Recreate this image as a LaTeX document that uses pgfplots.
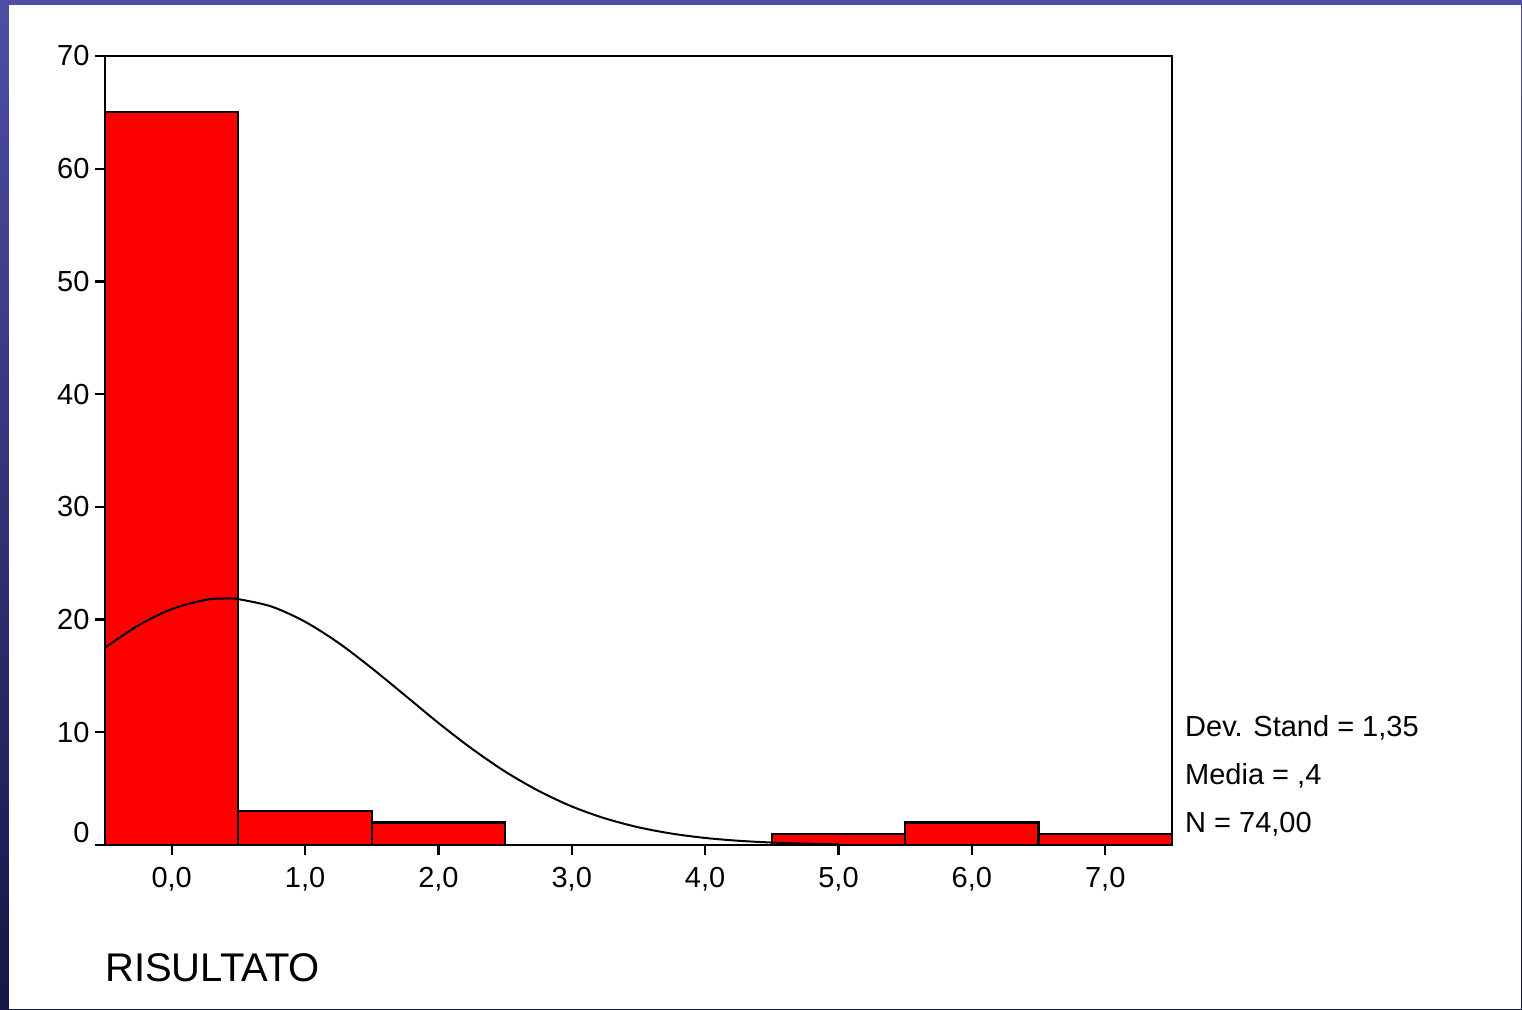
\documentclass[border=0pt]{standalone}
\usepackage{pgfplots}
\pgfplotsset{compat=1.18}
\usepackage{fontspec}
\setmainfont{Liberation Sans}
\definecolor{bgtop}{RGB}{78,78,165}
\definecolor{bgbot}{RGB}{22,22,72}
\definecolor{barred}{RGB}{255,0,0}
\begin{document}
\begin{tikzpicture}[x=1pt,y=1pt]
\shade[top color=bgtop,bottom color=bgbot] (0,0) rectangle (1522,1009);
\fill[white] (9,0) rectangle (1521,1004);
\begin{axis}[
  at={(105pt,164pt)}, anchor=south west,
  scale only axis, width=1067pt, height=789pt,
  xmin=-0.5, xmax=7.5, ymin=0, ymax=70,
  axis line style={line width=2.2pt},
  xtick={0,1,2,3,4,5,6,7},
  xticklabels={{0,0},{1,0},{2,0},{3,0},{4,0},{5,0},{6,0},{7,0}},
  ytick={10,20,30,40,50,60,70},
  extra y ticks={0},
  extra y tick style={yticklabel style={yshift=12pt}},
  tick align=outside, major tick length=10pt,
  tick style={line width=2.2pt, black},
  tick pos=left,
  ticklabel style={font=\fontsize{29}{35}\selectfont},
  xticklabel style={yshift=-9pt},
  yticklabel style={xshift=-2pt},
  /pgf/number format/assume math mode=true,
]
\addplot[ybar interval, fill=barred, draw=black, line width=2.2pt] coordinates {
  (-0.5,65) (0.5,3) (1.5,2) (2.5,0) (3.5,0) (4.5,1) (5.5,2) (6.5,1) (7.5,1)
};
\addplot[black, line width=2pt, smooth] coordinates {
  (-0.5,17.51) (-0.25,19.48) (0,20.93) (0.25,21.74) (0.4,21.87) (0.5,21.81)
  (0.75,21.15) (1.0,19.81) (1.25,17.94) (1.5,15.69) (1.75,13.27) (2.0,10.83)
  (2.25,8.55) (2.5,6.52) (2.75,4.81) (3.0,3.42) (3.25,2.36) (3.5,1.57)
  (3.75,1.01) (4.0,0.625) (4.25,0.375) (4.5,0.217) (4.75,0.122) (5.0,0.066)
};
\end{axis}
\node[anchor=base west, inner sep=0pt, font=\fontsize{40}{46}\selectfont] at (105,28) {RISULTATO};
\node[anchor=base west, inner sep=0pt, font=\fontsize{29}{35}\selectfont] at (1185,272) {Dev. Stand = 1,35};
\node[anchor=base west, inner sep=0pt, font=\fontsize{29}{35}\selectfont] at (1185,224) {Media = ,4};
\node[anchor=base west, inner sep=0pt, font=\fontsize{29}{35}\selectfont] at (1185,176) {N = 74,00};
\end{tikzpicture}
\end{document}
